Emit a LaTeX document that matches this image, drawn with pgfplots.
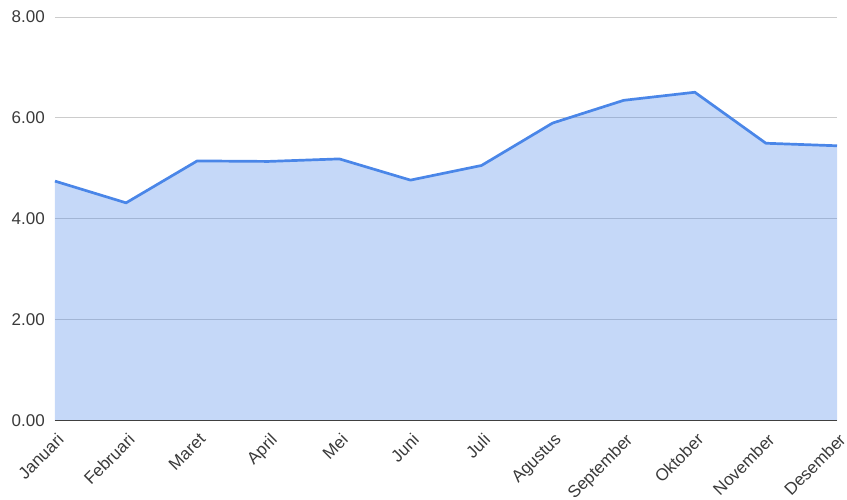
\documentclass[border=0pt]{standalone}
\usepackage{fontspec}
\setmainfont{Liberation Sans}
\usepackage{pgfplots}
\pgfplotsset{compat=1.18}
\definecolor{lineblue}{HTML}{4A86E8}
\definecolor{gridgray}{HTML}{CCCCCC}
\definecolor{labelgray}{HTML}{3A3A3A}
\begin{document}
\begin{tikzpicture}
\useasboundingbox (0,0) rectangle (847pt,500pt);
\begin{axis}[
  at={(55pt,79pt)}, anchor=south west,
  scale only axis, width=782pt, height=404pt,
  xmin=0, xmax=11, ymin=0, ymax=8,
  xtick={0,...,11},
  xticklabels={Januari,Februari,Maret,April,Mei,Juni,Juli,Agustus,September,Oktober,November,Desember},
  ytick={0,2,4,6,8},
  /pgf/number format/fixed, /pgf/number format/fixed zerofill,
  /pgf/number format/precision=2, /pgf/number format/assume math mode=true,
  tick label style={text=labelgray},
  xticklabel style={font=\fontsize{17}{19}\selectfont, xshift=1pt, yshift=-11pt, rotate=45, anchor=north east, inner sep=0pt},
  yticklabel style={font=\fontsize{17}{19}\selectfont, anchor=east, inner sep=0pt, xshift=-10pt},
  axis line style={draw=none},
  axis x line*=bottom, axis y line*=left,
  major tick length=0pt,
  ymajorgrids, grid style={gridgray, line width=1pt},
  clip=false,
]
\addplot[draw=none, fill=lineblue, fill opacity=0.32] coordinates {
(0,4.75) (1,4.32) (2,5.15) (3,5.14) (4,5.19) (5,4.77) (6,5.06) (7,5.90) (8,6.35) (9,6.51) (10,5.50) (11,5.45)
} \closedcycle;
\draw[color=black!75, line width=1pt] (axis cs:0,0) -- (axis cs:11,0);
\addplot[color=lineblue, line width=2.7pt, line join=round] coordinates {
(0,4.75) (1,4.32) (2,5.15) (3,5.14) (4,5.19) (5,4.77) (6,5.06) (7,5.90) (8,6.35) (9,6.51) (10,5.50) (11,5.45)
};
\end{axis}
\end{tikzpicture}
\end{document}
